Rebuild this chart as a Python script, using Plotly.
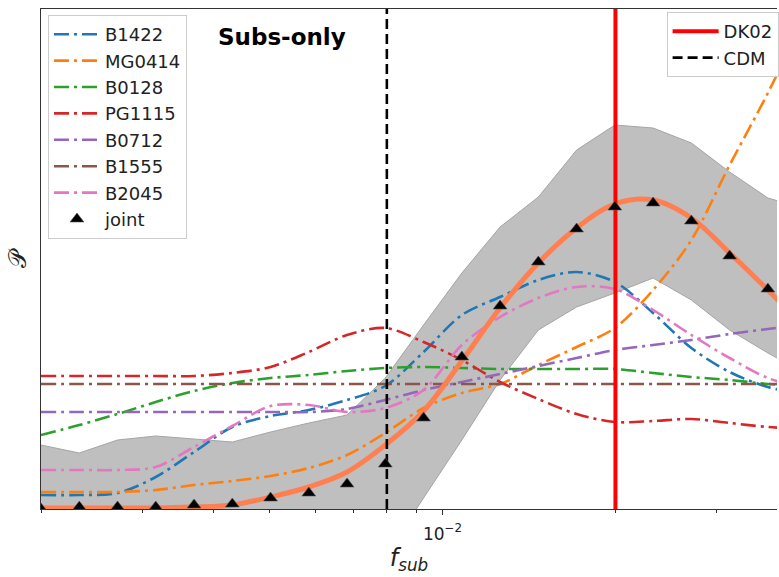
import plotly.graph_objects as go

# f_sub sampling grid (log spaced, 0.002 .. 0.05)
fsub = [0.002000, 0.002332, 0.002718, 0.003168, 0.003694, 0.004306, 0.005019,
        0.005851, 0.006821, 0.007951, 0.009269, 0.010805, 0.012596, 0.014683,
        0.017117, 0.019953, 0.023260, 0.027115, 0.031609, 0.036848, 0.042955,
        0.050074]

# Per-lens posterior curves (arbitrary normalisation)
B1422 = [0.028, 0.028, 0.032, 0.064, 0.114, 0.164, 0.186, 0.198, 0.218, 0.246,
         0.314, 0.388, 0.424, 0.458, 0.474, 0.454, 0.392, 0.322, 0.274, 0.244,
         0.230, 0.222]
MG0414 = [0.034, 0.034, 0.034, 0.038, 0.048, 0.056, 0.066, 0.082, 0.108, 0.152,
          0.202, 0.232, 0.250, 0.288, 0.324, 0.362, 0.438, 0.538, 0.688, 0.832,
          0.990, 1.150]
B0128 = [0.148, 0.168, 0.190, 0.214, 0.236, 0.252, 0.262, 0.268, 0.276, 0.282,
         0.284, 0.282, 0.280, 0.280, 0.280, 0.280, 0.272, 0.264, 0.258, 0.250,
         0.245, 0.240]
PG1115 = [0.266, 0.266, 0.266, 0.266, 0.266, 0.272, 0.284, 0.314, 0.348, 0.362,
          0.334, 0.298, 0.254, 0.220, 0.190, 0.174, 0.176, 0.180, 0.172, 0.164,
          0.160, 0.156]
B0712 = [0.194, 0.194, 0.194, 0.194, 0.194, 0.194, 0.194, 0.194, 0.200, 0.218,
         0.238, 0.254, 0.270, 0.286, 0.302, 0.318, 0.328, 0.338, 0.350, 0.360,
         0.370, 0.380]
B1555 = [0.250] * 22
B2045 = [0.078, 0.078, 0.078, 0.084, 0.124, 0.166, 0.206, 0.208, 0.194, 0.202,
         0.238, 0.328, 0.384, 0.422, 0.444, 0.440, 0.398, 0.348, 0.302, 0.262,
         0.240, 0.225]

# Joint posterior: smooth curve, sampled points and 1-sigma band
joint_curve = [0.002, 0.002, 0.002, 0.002, 0.004, 0.008, 0.024, 0.044, 0.074,
               0.128, 0.196, 0.296, 0.402, 0.492, 0.562, 0.610, 0.618, 0.582,
               0.512, 0.438, 0.360, 0.290]
joint_pts = [0.000, 0.004, 0.004, 0.004, 0.008, 0.010, 0.022, 0.032, 0.050,
             0.090, 0.182, 0.304, 0.406, 0.494, 0.560, 0.604, 0.612, 0.576,
             0.506, 0.440, 0.378, 0.318]
band_hi = [0.128, 0.112, 0.138, 0.146, 0.140, 0.134, 0.154, 0.172, 0.188, 0.262,
           0.368, 0.472, 0.564, 0.624, 0.718, 0.768, 0.762, 0.732, 0.674, 0.622,
           0.600, 0.580]
band_lo = [-0.12, -0.12, -0.12, -0.12, -0.12, -0.12, -0.12, -0.12, -0.11, -0.094,
           0.022, 0.138, 0.258, 0.358, 0.404, 0.432, 0.462, 0.418, 0.358, 0.312,
           0.270, 0.240]

# Model predictions
DK02_fsub = 0.02
CDM_fsub = 0.008

lenses = [("B1422", B1422, "#1f77b4"), ("MG0414", MG0414, "#ff7f0e"),
          ("B0128", B0128, "#2ca02c"), ("PG1115", PG1115, "#d62728"),
          ("B0712", B0712, "#9467bd"), ("B1555", B1555, "#8c564b"),
          ("B2045", B2045, "#e377c2")]

FONT = "DejaVu Sans"
DASHDOT = "15px,5px,3px,5px"

fig = go.Figure()

# 1-sigma band around the joint posterior
fig.add_trace(go.Scatter(
    x=fsub + fsub[::-1], y=band_hi + band_lo[::-1],
    fill="toself", fillcolor="rgb(191,191,191)",
    line=dict(color="rgb(165,165,165)", width=1),
    mode="lines", showlegend=False, hoverinfo="skip"))

for name, vals, col in lenses:
    fig.add_trace(go.Scatter(
        x=fsub, y=vals, mode="lines", name=name,
        line=dict(color=col, width=2.6, dash=DASHDOT, shape="spline", smoothing=0.9),
        legend="legend", legendgroup=name))

fig.add_trace(go.Scatter(
    x=fsub, y=joint_curve, mode="lines", showlegend=False,
    line=dict(color="#ff7f50", width=5, shape="spline", smoothing=1.0)))

fig.add_trace(go.Scatter(
    x=[DK02_fsub, DK02_fsub], y=[0, 1], mode="lines", name="DK02",
    line=dict(color="#ff0000", width=4), legend="legend2", legendgroup="DK02"))
fig.add_trace(go.Scatter(
    x=[CDM_fsub, CDM_fsub], y=[0, 1], mode="lines", name="CDM",
    line=dict(color="#000000", width=2.6, dash="10px,5px"),
    legend="legend2", legendgroup="CDM"))

fig.add_trace(go.Scatter(
    x=fsub, y=joint_pts, mode="markers", name="joint",
    marker=dict(symbol="triangle-up", size=12, color="black",
                line=dict(color="#555", width=0.6)),
    legend="legend", legendgroup="joint"))

fig.add_annotation(
    text="<b>Subs-only</b>", xref="paper", yref="paper",
    x=0.328, y=0.944, xanchor="center", yanchor="middle", showarrow=False,
    font=dict(family=FONT, size=23, color="black"))

minor_vals = [0.002, 0.003, 0.004, 0.005, 0.006, 0.007, 0.008, 0.009, 0.02, 0.03]

fig.update_layout(
    width=779, height=577,
    margin=dict(l=41, r=0, t=9, b=68),
    paper_bgcolor="white", plot_bgcolor="white",
    font=dict(family=FONT, color="black"),
    xaxis=dict(
        type="log", range=[-2.69897, -1.41772],
        showgrid=False, zeroline=False,
        showline=True, linecolor="#333", linewidth=1.3, mirror=True,
        ticks="outside", ticklen=5, tickwidth=1, tickcolor="#333",
        tickvals=[0.01], ticktext=["10<sup>\u22122</sup>"],
        ticklabelstandoff=4,
        tickfont=dict(family=FONT, size=17, color="#222"),
        minor=dict(tickvals=minor_vals, ticks="outside", ticklen=3,
                   tickwidth=1, tickcolor="#333", showgrid=False),
        title=dict(text="<i>f</i><sub><i>sub</i></sub>", standoff=4,
                   font=dict(family=FONT, size=24, color="#222")),
    ),
    yaxis=dict(
        range=[0, 1], showgrid=False, zeroline=False,
        showline=True, linecolor="#333", linewidth=1.3, mirror=False,
        showticklabels=False, ticks="",
        title=dict(text="\U0001D4AB", standoff=6,
                   font=dict(family=FONT, size=24, color="#222")),
    ),
    legend=dict(
        x=0.0095, y=0.988, xanchor="left", yanchor="top",
        bgcolor="rgba(255,255,255,0.85)", bordercolor="#cccccc", borderwidth=1,
        font=dict(family=FONT, size=18, color="#222"),
        traceorder="grouped", tracegroupgap=0, itemwidth=46),
    legend2=dict(
        x=0.85, y=0.994, xanchor="left", yanchor="top",
        bgcolor="rgba(255,255,255,0.85)", bordercolor="#cccccc", borderwidth=1,
        font=dict(family=FONT, size=18, color="#222"),
        traceorder="grouped", tracegroupgap=0, itemwidth=46),
)

fig.write_html("out.html")
